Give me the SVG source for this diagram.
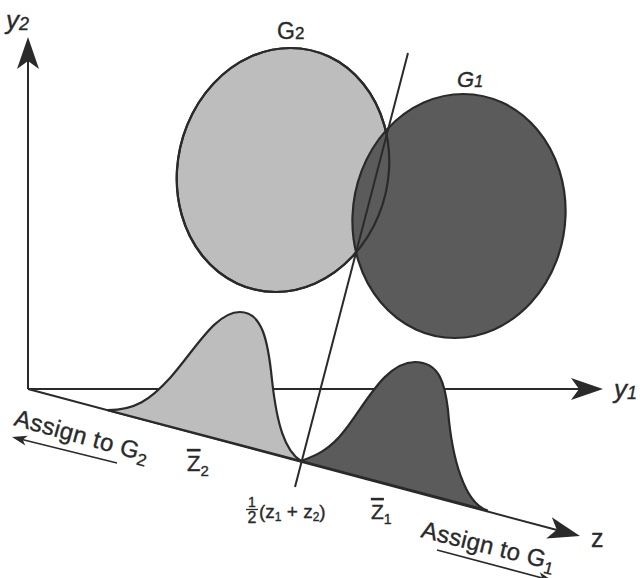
<svg xmlns="http://www.w3.org/2000/svg" width="642" height="578" viewBox="0 0 642 578">
<style>
  .ln{stroke:#2a2a2a;stroke-width:2;fill:none}
  .thin{stroke:#2a2a2a;stroke-width:1.6;fill:none}
  .out{stroke:#2a2a2a;stroke-width:2.2;stroke-linejoin:round}
  .lbl{font-family:"Liberation Sans",Arial,sans-serif;fill:#2a2a2a;stroke:#2a2a2a;stroke-width:0.35}
  .it{font-style:italic}
  .light{fill:#bdbdbd}
  .dark{fill:#5b5b5b}
</style>
<defs>
  <path id="head" d="M0,0 L-32,-11 L-24,0 L-32,11 Z" fill="#2a2a2a"/>
  <path id="shead" d="M0,0 L-15,-5 L-11,0 L-15,5 Z" fill="#2a2a2a"/>
</defs>
<rect width="642" height="578" fill="#ffffff"/>

<g id="G2">
  <ellipse class="light out" rx="106" ry="122" transform="translate(283,170) skewX(-3.5)"/>
  <text class="lbl" x="277" y="39" font-size="23">G<tspan font-size="17">2</tspan></text>
</g>
<g id="G1">
  <ellipse class="dark out" rx="106.5" ry="122" transform="translate(459,216) skewX(-2)"/>
  <ellipse class="out" fill="none" rx="106" ry="122" transform="translate(283,170) skewX(-3.5)"/>
  <text class="lbl it" x="457" y="87" font-size="22">G<tspan font-size="16">1</tspan></text>
</g>

<g id="connectors">
  <line class="ln" x1="28" y1="389" x2="28" y2="45"/>
  <use href="#head" transform="translate(28,37) rotate(-90)"/>
  <line class="ln" x1="28" y1="389" x2="595" y2="389"/>
  <use href="#head" transform="translate(603,389)"/>
  <line class="ln" x1="28" y1="389" x2="572" y2="534"/>
  <use href="#head" transform="translate(580,536) rotate(14.8)"/>
  <line class="ln" x1="408" y1="53" x2="295" y2="487"/>
  <line class="thin" x1="117" y1="463" x2="16" y2="438"/>
  <use href="#shead" transform="translate(12,437) rotate(193.9)"/>
  <line class="thin" x1="437" y1="550" x2="546" y2="579"/>
  <use href="#shead" transform="translate(553,581) rotate(14.9)"/>
</g>

<g id="dist-G2">
  <path class="light out" d="M108,410.2 C135,410 150,400 170,378 C195,350 215,312 240,312 C262,312 268,340 272,380 C277,425 285,451 301,461 Z"/>
</g>
<g id="dist-G1">
  <path class="dark out" d="M301,461 C315,456 330,450 345,430 C365,405 385,362 415,362 C440,362 445,385 448,410 C452,460 465,503 487,510.4 Z"/>
</g>

<g id="labels">
  <text class="lbl it" x="6" y="29" font-size="26">y<tspan font-size="18" dy="1">2</tspan></text>
  <text class="lbl it" x="614" y="398" font-size="26">y<tspan font-size="18" dy="1">1</tspan></text>
  <text class="lbl" x="591" y="547" font-size="25">z</text>
  <text class="lbl" x="13" y="425" font-size="24" textLength="138" lengthAdjust="spacing" transform="rotate(15.5 13 425)">Assign to G<tspan font-size="17" dy="5">2</tspan></text>
  <text class="lbl" x="420" y="537" font-size="24" textLength="137" lengthAdjust="spacing" transform="rotate(14 420 537)">Assign to G<tspan font-size="17" dy="5">1</tspan></text>
  <text class="lbl" x="187" y="471" font-size="22"><tspan text-decoration="overline">Z</tspan><tspan font-size="15" dy="5">2</tspan></text>
  <text class="lbl" x="371" y="519" font-size="21"><tspan text-decoration="overline">Z</tspan><tspan font-size="14" dy="5">1</tspan></text>
  <text class="lbl" x="252" y="507" font-size="14" text-anchor="middle">1</text>
  <line x1="246" y1="509.5" x2="258" y2="509.5" stroke="#2a2a2a" stroke-width="1.3"/>
  <text class="lbl" x="252" y="523" font-size="16" text-anchor="middle">2</text>
  <text class="lbl" x="259" y="518" font-size="19">(z<tspan font-size="12" dy="3">1</tspan><tspan dy="-3"> + z</tspan><tspan font-size="12" dy="3">2</tspan><tspan dy="-3">)</tspan></text>
</g>
</svg>
